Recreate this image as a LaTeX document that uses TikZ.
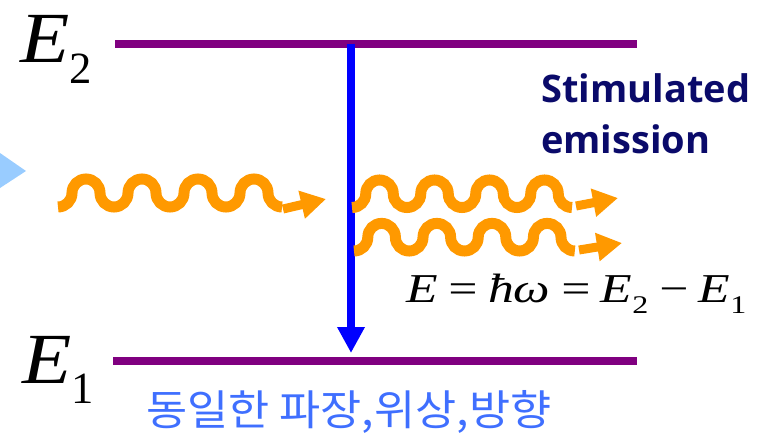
\documentclass[tikz,border=0pt]{standalone}
\usepackage{fontspec}
\usepackage{graphicx}
\setmainfont{Liberation Serif}
\newfontfamily\labelsans{Open Sans}
\newfontfamily\krfont{Noto Sans CJK KR}
\usetikzlibrary{arrows.meta}

\definecolor{levelpurple}{HTML}{800080}
\definecolor{emitblue}{HTML}{0000FF}
\definecolor{photonorange}{HTML}{FF9900}
\definecolor{pumpblue}{HTML}{99CCFF}
\definecolor{titlenavy}{HTML}{0A0A6A}
\definecolor{krblue}{HTML}{3F6FFF}

\newcommand\lowidx[1]{\raisebox{-0.28em}{\scalebox{0.62}{\upshape #1}}}
% wave of half circles: start x, start y (trough), radius
\newcommand\photonwave[3]{%
  \draw[photon] (#1,#2) arc[start angle=90, end angle=0, radius=#3]
    \foreach \k in {1,2,3} {arc[start angle=180, end angle=360, radius=#3]
                            arc[start angle=180, end angle=0, radius=#3]}
    arc[start angle=180, end angle=360, radius=#3]
    arc[start angle=180, end angle=90, radius=#3];}

\tikzset{
  level/.style={draw=levelpurple, line width=8pt},
  photon/.style={draw=photonorange, line width=11pt},
  photonhead/.style={draw=photonorange, line width=9pt, -{Triangle[length=25pt,width=27pt]}},
}

\begin{document}
\begin{tikzpicture}[x=1pt, y=-1pt, every node/.style={inner sep=0pt}]
    \useasboundingbox (0,0) rectangle (767,433);
    % levels
    \coordinate (e2l) at (115,44);
    \coordinate (e2r) at (637,44);
    \coordinate (e1l) at (113,361);
    \coordinate (e1r) at (637,361);
    \draw[level] (e2l) -- (e2r);
    \draw[level] (e1l) -- (e1r);
    \node[anchor=base west, font=\fontsize{72}{72}\selectfont\itshape] (lab2) at (20,63) {\scalebox{1.12}[1]{E}\lowidx{2}};
    \node[anchor=base west, font=\fontsize{72}{72}\selectfont\itshape] (lab1) at (22,383) {\scalebox{1.12}[1]{E}\lowidx{1}};

    % transition
    \coordinate (top) at (351,44);
    \coordinate (bot) at (351,353);
    \draw[draw=emitblue, line width=8pt, -{Triangle[length=26pt,width=26pt]}] (top) -- (bot);

    % pump mark
    \fill[pumpblue] (0,153) -- (26,171) -- (0,188) -- cycle;

    % photons
    \photonwave{58}{207}{14}
    \photonwave{352}{207.5}{13.75}
    \photonwave{354}{251}{13.8}
    \coordinate (ina) at (283,209);
    \coordinate (inb) at (326,199);
    \coordinate (upa) at (576,206);
    \coordinate (upb) at (618,198);
    \coordinate (loa) at (579,250);
    \coordinate (lob) at (622,243);
    \draw[photonhead] (ina) -- (inb);
    \draw[photonhead] (upa) -- (upb);
    \draw[photonhead] (loa) -- (lob);

    \node[anchor=base west, align=left, text=titlenavy, font=\labelsans\bfseries\fontsize{38}{51}\selectfont] (stim) at (541,153) {Stimulated\\emission};
    \node[anchor=base west, font=\fontsize{41}{41}\selectfont\itshape] (energy) at (406,302)
        {\scalebox{1.26}[1]{E\hspace{0.15em}=\hspace{0.15em}ħω\hspace{0.15em}=\hspace{0.15em}E\lowidx{2}\hspace{0.15em}−\hspace{0.15em}E\lowidx{1}}};
    \node[anchor=base west, text=krblue, font=\krfont\fontsize{42}{42}\selectfont] (same) at (146,425) {\scalebox{1.065}[1]{동일한 파장,위상,방향}};
\end{tikzpicture}
\end{document}
